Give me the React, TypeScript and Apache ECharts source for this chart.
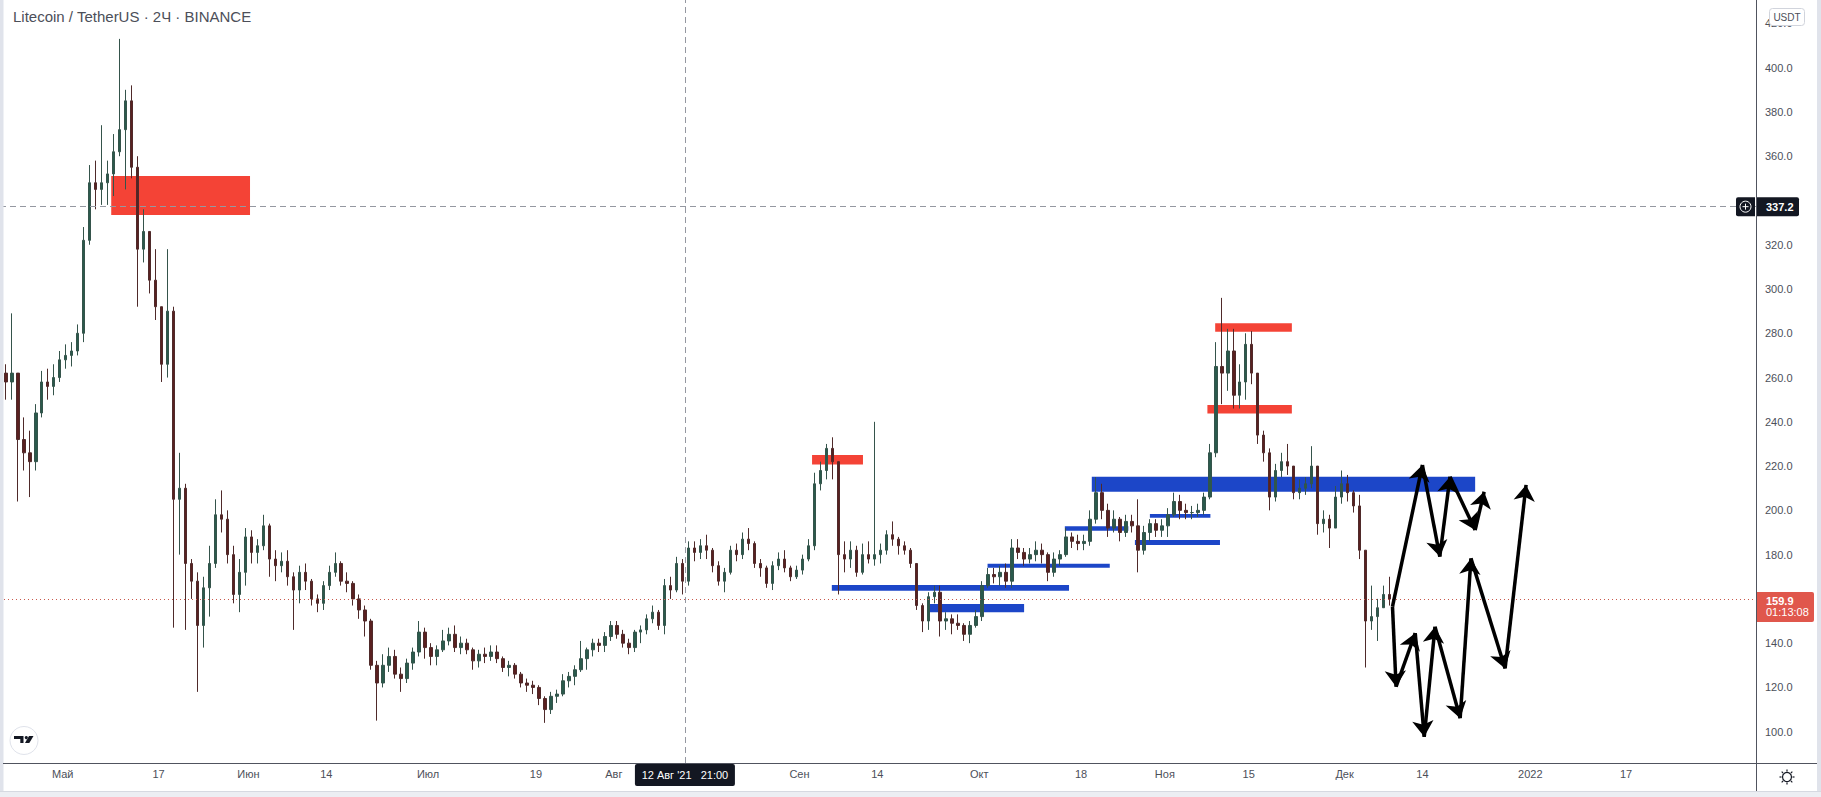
import React, { useEffect, useRef } from "react";
import * as echarts from "echarts";

// ---------- data ----------
const FIRST_DAY = "2021-04-21";
const FIRST_OPEN = 262;

// daily candles: [high, low, close]
const APR_2021 = [
  [266, 250, 258], [289, 250, 262], [262, 204, 232], [242, 218, 226], [236, 206, 222],
  [248, 218, 244], [263, 242, 258], [264, 250, 256], [266, 252, 260], [272, 258, 268],
];
const MAY_2021 = [
  [275, 264, 270], [276, 265, 272], [284, 270, 280], [328, 276, 322], [356, 320, 348],
  [358, 336, 345], [374, 338, 348], [358, 338, 352], [370, 342, 362], [413, 360, 372],
  [390, 345, 385], [392, 350, 355], [360, 292, 318], [336, 312, 326], [322, 298, 304],
  [318, 286, 292], [290, 258, 266], [318, 260, 290], [292, 147, 205], [226, 180, 210],
  [212, 146, 176], [178, 160, 168], [172, 118, 148], [170, 138, 165], [184, 152, 176],
  [205, 174, 198], [209, 190, 196], [200, 176, 180], [184, 158, 162], [178, 154, 172],
  [192, 166, 188],
];
const JUN_2021 = [
  [191, 176, 181], [187, 176, 184], [198, 182, 193], [194, 170, 178], [182, 168, 175],
  [181, 172, 177], [182, 166, 170], [172, 146, 164], [175, 158, 172], [176, 164, 168],
  [169, 157, 160], [162, 154, 158], [168, 155, 166], [175, 164, 172], [181, 170, 176],
  [177, 166, 168], [172, 163, 167], [168, 157, 160], [162, 151, 155], [157, 143, 150],
  [151, 128, 130], [132, 105, 122], [135, 120, 130], [138, 127, 134], [137, 124, 126],
  [129, 118, 124], [133, 122, 131], [138, 128, 136], [150, 134, 145], [147, 133, 138],
];
const JUL_2021 = [
  [140, 130, 134], [139, 130, 137], [146, 136, 141], [147, 139, 144], [148, 136, 138],
  [143, 135, 140], [142, 135, 137], [138, 128, 132], [137, 129, 135], [138, 131, 134],
  [139, 132, 136], [139, 131, 133], [134, 127, 129], [132, 125, 130], [131, 124, 126],
  [127, 120, 122], [124, 118, 121], [123, 117, 120], [121, 112, 115], [116, 104, 110],
  [118, 108, 116], [119, 113, 117], [126, 116, 123], [127, 120, 125], [130, 121, 128],
  [141, 127, 133], [138, 128, 137], [142, 134, 140], [142, 136, 139], [145, 136, 143],
  [150, 141, 148],
];
const AUG_2021 = [
  [150, 142, 144], [146, 138, 140], [142, 135, 138], [146, 136, 145], [148, 140, 146],
  [153, 144, 151], [157, 149, 154], [155, 146, 148], [169, 144, 166], [170, 160, 164],
  [179, 163, 176], [178, 162, 168], [186, 166, 183], [186, 177, 181], [187, 178, 184],
  [189, 178, 182], [183, 172, 175], [177, 166, 168], [174, 163, 172], [184, 171, 182],
  [185, 177, 180], [190, 178, 187], [192, 182, 185], [186, 174, 176], [178, 170, 174],
  [175, 165, 167], [177, 164, 175], [181, 173, 178], [182, 172, 174], [175, 168, 170],
  [175, 169, 173],
];
const SEP_2021 = [
  [180, 171, 178], [187, 177, 184], [217, 182, 212], [222, 209, 218], [230, 214, 228],
  [233, 214, 222], [222, 162, 180], [186, 172, 178], [186, 174, 182], [184, 170, 172],
  [185, 171, 180], [186, 176, 178], [240, 175, 180], [185, 176, 182], [191, 180, 189],
  [195, 184, 187], [188, 180, 184], [186, 180, 182], [183, 174, 176], [176, 155, 157],
  [158, 145, 150], [163, 146, 161], [166, 158, 163], [166, 143, 150], [154, 146, 151],
  [153, 144, 149], [153, 146, 148], [149, 141, 144], [150, 140, 148], [155, 147, 152],
];
const OCT_2021 = [
  [168, 150, 166], [174, 165, 171], [174, 167, 170], [175, 166, 172], [176, 165, 168],
  [187, 165, 183], [187, 178, 181], [183, 175, 178], [183, 176, 180], [186, 177, 182],
  [185, 176, 180], [181, 168, 172], [181, 170, 178], [182, 175, 180], [192, 179, 188],
  [190, 183, 186], [189, 182, 185], [189, 182, 186], [200, 184, 196], [215, 194, 208],
  [212, 196, 200], [203, 188, 192], [200, 190, 196], [197, 186, 190], [198, 188, 195],
  [198, 190, 193], [205, 172, 182], [193, 180, 190], [196, 186, 194], [196, 188, 191],
  [196, 188, 193],
];
const NOV_2021 = [
  [201, 188, 198], [208, 197, 204], [207, 196, 200], [203, 196, 199], [202, 196, 199],
  [203, 197, 200], [208, 198, 206], [230, 205, 226], [276, 224, 265], [296, 248, 262],
  [282, 254, 272], [282, 246, 252], [266, 246, 258], [280, 250, 275], [281, 257, 262],
  [262, 230, 234], [236, 222, 226], [228, 200, 206], [221, 204, 218], [226, 215, 222],
  [230, 216, 220], [220, 205, 208], [214, 205, 210], [215, 207, 212], [229, 210, 220],
  [220, 189, 194], [200, 190, 196], [198, 183, 192], [211, 192, 206], [218, 203, 212],
];
const DEC_2021 = [
  [216, 204, 208], [209, 199, 202], [207, 178, 182], [182, 129, 150], [166, 146, 152],
  [160, 141, 156], [166, 156, 162], [170, 157, 159.9],
];
const MONTHS = [APR_2021, MAY_2021, JUN_2021, JUL_2021, AUG_2021, SEP_2021, OCT_2021, NOV_2021, DEC_2021];

// time-axis labels
const TICK_DATES = [
  "2021-05-01", "2021-05-17", "2021-06-01", "2021-06-14", "2021-07-01", "2021-07-19",
  "2021-08-01", "2021-09-01", "2021-09-14", "2021-10-01", "2021-10-18", "2021-11-01",
  "2021-11-15", "2021-12-01", "2021-12-14", "2022-01-01", "2022-01-17",
];
const TICK_LABELS = [
  "Май", "17", "Июн", "14", "Июл", "19", "Авг", "Сен", "14", "Окт", "18", "Ноя",
  "15", "Дек", "14", "2022", "17",
];
// price-scale labels (340.0 sits under the crosshair price tag)
const PRICE_TICKS = [100, 120, 140, 160, 180, 200, 220, 240, 260, 280, 300, 320, 360, 380, 400, 420];

// crosshair + last price
const CROSS_TIME = "2021-08-12 21:00";
const CROSS_TIME_LABEL = "12 Авг '21   21:00";
const CROSS_PRICE = 337.2;
const LAST_PRICE = 159.9;
const COUNTDOWN = "01:13:08";

// zones: [from, to, low, high, kind]
const ZONES: [string, string, number, number, string][] = [
  ["2021-05-09 02:24", "2021-06-01 06:30", 333.4, 351.0, "red"],
  ["2021-09-03 02:24", "2021-09-11 14:24", 220.7, 225.0, "red"],
  ["2021-09-06 09:36", "2021-10-16 00:00", 163.7, 166.3, "blue"],
  ["2021-09-22 16:48", "2021-10-08 12:00", 154.0, 157.7, "blue"],
  ["2021-10-02 09:36", "2021-10-22 19:12", 174.1, 175.9, "blue"],
  ["2021-10-15 07:12", "2021-10-25 21:36", 190.8, 192.8, "blue"],
  ["2021-10-29 12:00", "2021-11-08 14:24", 196.7, 198.3, "blue"],
  ["2021-10-27 00:00", "2021-11-10 04:48", 184.4, 186.6, "blue"],
  ["2021-10-19 19:12", "2021-12-22 19:12", 208.4, 215.2, "blue"],
  ["2021-11-09 09:36", "2021-11-22 04:48", 280.7, 284.5, "red"],
  ["2021-11-08 02:24", "2021-11-22 04:48", 243.8, 247.6, "red"],
];

// projected arrow paths: [time, price]
const ARROW_UPPER: [string, number][] = [
  ["2021-12-09 00:00", 156.5], ["2021-12-14 00:00", 220.5], ["2021-12-16 21:36", 179.1],
  ["2021-12-18 14:24", 215.2], ["2021-12-22 19:12", 191.1], ["2021-12-24 07:12", 208.4],
];
const ARROW_LOWER: [string, number][] = [
  ["2021-12-09 00:00", 156.5], ["2021-12-09 14:24", 120.3], ["2021-12-12 19:12", 144.5],
  ["2021-12-14 07:12", 97.7], ["2021-12-16 02:24", 147.4], ["2021-12-20 07:12", 106.1],
  ["2021-12-22 02:24", 178.3], ["2021-12-27 19:12", 128.6], ["2021-12-31 07:12", 211.5],
];

// visible window
const VIEW_FROM = "2021-04-20 12:45";
const VIEW_TO = "2022-02-07 16:28";
const VIEW_LOW = 85.86;
const VIEW_HIGH = 430.57;

// ---------- helpers ----------
const DAY = 86400000;
const ts = (s: string) => {
  const [d, t] = s.split(" ");
  const [y, m, dd] = d.split("-").map(Number);
  const [hh, mm] = (t || "00:00").split(":").map(Number);
  return Date.UTC(y, m - 1, dd, hh, mm);
};
const FONT = '"Liberation Sans", Arial, sans-serif';
const RED = "#f44336";
const BLUE = "#1c46c8";
const TEXT = "#4c4f59";
const DARK = "#131722";

export default function App() {
  const ref = useRef<HTMLDivElement>(null);

  useEffect(() => {
    document.body.style.margin = "0";
    const chart = echarts.init(ref.current!, undefined, { renderer: "svg" });

    const candles: number[][] = [];
    let prev = FIRST_OPEN;
    let i = 0;
    const t0 = ts(FIRST_DAY);
    MONTHS.forEach((m) =>
      m.forEach(([h, l, c]) => {
        const o = prev;
        candles.push([t0 + i * DAY + DAY / 2, o, c, Math.min(l, o, c), Math.max(h, o, c)]);
        prev = c;
        i++;
      })
    );

    const tickTs = TICK_DATES.map(ts);
    const labelOf: Record<number, string> = {};
    tickTs.forEach((t, k) => (labelOf[t] = TICK_LABELS[k]));

    const segs = (pts: [string, number][]) => {
      const out: any[] = [];
      for (let k = 1; k < pts.length; k++) {
        out.push({ coords: [[ts(pts[k - 1][0]), pts[k - 1][1]], [ts(pts[k][0]), pts[k][1]]] });
      }
      return out;
    };

    const crossT = ts(CROSS_TIME);

    chart.setOption({
      animation: false,
      backgroundColor: "#ffffff",
      grid: { left: 0, right: 65, top: 0, bottom: 34 },
      xAxis: {
        type: "value",
        min: ts(VIEW_FROM),
        max: ts(VIEW_TO),
        axisLine: { show: false },
        axisTick: { show: false },
        splitLine: { show: false },
        axisLabel: {
          customValues: tickTs,
          formatter: (v: number) => labelOf[v] ?? "",
          color: TEXT,
          fontFamily: FONT,
          fontSize: 11,
          margin: 5,
        },
      },
      yAxis: {
        type: "value",
        position: "right",
        min: VIEW_LOW,
        max: VIEW_HIGH,
        axisLine: { show: false },
        axisTick: { show: false },
        splitLine: { show: false },
        axisLabel: {
          customValues: PRICE_TICKS,
          formatter: (v: number) => v.toFixed(1),
          color: TEXT,
          fontFamily: FONT,
          fontSize: 11,
          margin: 9,
        },
      },
      series: [
        {
          type: "line",
          data: [],
          z: 1,
          silent: true,
          markArea: {
            silent: true,
            data: ZONES.map(([from, to, lo, hi, kind]) => [
              { xAxis: ts(from), yAxis: hi, itemStyle: { color: kind === "red" ? RED : BLUE, opacity: 1 } },
              { xAxis: ts(to), yAxis: lo },
            ]),
          },
        },
        {
          type: "candlestick",
          z: 3,
          barWidth: 3,
          data: candles,
          itemStyle: {
            color: "#2a5a4c",
            color0: "#5a2020",
            borderColor: "#35544b",
            borderColor0: "#4f2a2a",
            borderWidth: 1,
          },
          markLine: {
            silent: true,
            symbol: ["none", "none"],
            label: { show: false },
            data: [
              { yAxis: CROSS_PRICE, lineStyle: { color: "#9598a1", type: [6, 4], width: 1 } },
              { xAxis: crossT, lineStyle: { color: "#9598a1", type: [6, 4], width: 1 } },
              { yAxis: LAST_PRICE, lineStyle: { color: "#c8584c", type: [1, 3], width: 1 } },
            ],
          },
        },
        {
          type: "lines",
          coordinateSystem: "cartesian2d",
          z: 5,
          silent: true,
          symbol: ["none", "arrow"],
          symbolSize: 16,
          lineStyle: { color: "#000000", width: 3.5, opacity: 1, curveness: 0 },
          data: [...segs(ARROW_UPPER), ...segs(ARROW_LOWER)],
        },
      ],
    });

    const [cx, cy] = chart.convertToPixel({ gridIndex: 0 } as any, [crossT, CROSS_PRICE]) as number[];
    const [, py] = chart.convertToPixel({ gridIndex: 0 } as any, [crossT, LAST_PRICE]) as number[];

    const rays: any[] = [];
    for (let k = 0; k < 8; k++) {
      const a = (k * Math.PI) / 4;
      rays.push({
        type: "line",
        shape: { x1: Math.cos(a) * 5.5, y1: Math.sin(a) * 5.5, x2: Math.cos(a) * 7.5, y2: Math.sin(a) * 7.5 },
        style: { stroke: DARK, lineWidth: 1.2 },
      });
    }

    chart.setOption({
      graphic: [
        { type: "rect", z: 100, shape: { x: 0, y: 0, width: 3.5, height: 797 }, style: { fill: "#e0e3eb" } },
        { type: "rect", z: 100, shape: { x: 1817, y: 0, width: 4, height: 797 }, style: { fill: "#e0e3eb" } },
        { type: "rect", z: 100, shape: { x: 0, y: 791, width: 1821, height: 6 }, style: { fill: "#eceef3" } },
        { type: "line", z: 100, shape: { x1: 0, y1: 791.5, x2: 1821, y2: 791.5 }, style: { stroke: "#d6d9e1", lineWidth: 1 } },
        { type: "line", z: 100, shape: { x1: 3, y1: 763.5, x2: 1817, y2: 763.5 }, style: { stroke: "#50535e", lineWidth: 1 } },
        { type: "line", z: 100, shape: { x1: 1756.5, y1: 0, x2: 1756.5, y2: 791 }, style: { stroke: "#50535e", lineWidth: 1 } },
        {
          type: "text", z: 100, x: 13, y: 16,
          style: { text: "Litecoin / TetherUS · 2Ч · BINANCE", font: `15px ${FONT}`, fill: TEXT, verticalAlign: "middle" },
        },
        {
          type: "rect", z: 101, shape: { x: 1769.5, y: 8.5, width: 35, height: 17, r: 3 },
          style: { fill: "#ffffff", stroke: "#d1d4dc", lineWidth: 1 },
        },
        {
          type: "text", z: 102, x: 1787, y: 17,
          style: { text: "USDT", font: `10px ${FONT}`, fill: TEXT, align: "center", verticalAlign: "middle" },
        },
        // crosshair price label
        { type: "rect", z: 101, shape: { x: 1736, y: cy - 9.5, width: 19, height: 19, r: [2, 0, 0, 2] }, style: { fill: DARK } },
        { type: "circle", z: 102, shape: { cx: 1745.5, cy, r: 5.5 }, style: { fill: "none", stroke: "#ffffff", lineWidth: 1 } },
        { type: "line", z: 102, shape: { x1: 1742.5, y1: cy, x2: 1748.5, y2: cy }, style: { stroke: "#ffffff", lineWidth: 1 } },
        { type: "line", z: 102, shape: { x1: 1745.5, y1: cy - 3, x2: 1745.5, y2: cy + 3 }, style: { stroke: "#ffffff", lineWidth: 1 } },
        { type: "rect", z: 101, shape: { x: 1757, y: cy - 9.5, width: 42, height: 19, r: [0, 2, 2, 0] }, style: { fill: DARK } },
        {
          type: "text", z: 102, x: 1766, y: cy,
          style: { text: CROSS_PRICE.toFixed(1), font: `bold 11px ${FONT}`, fill: "#ffffff", verticalAlign: "middle" },
        },
        // crosshair time label
        { type: "rect", z: 101, shape: { x: cx - 50, y: 764, width: 100, height: 22, r: 2 }, style: { fill: DARK } },
        {
          type: "text", z: 102, x: cx, y: 775,
          style: { text: CROSS_TIME_LABEL, font: `11px ${FONT}`, fill: "#ffffff", align: "center", verticalAlign: "middle" },
        },
        // last price label
        { type: "rect", z: 101, shape: { x: 1757, y: py - 7, width: 57, height: 30, r: [0, 2, 2, 0] }, style: { fill: "#e0574c" } },
        {
          type: "text", z: 102, x: 1766, y: py + 2,
          style: { text: LAST_PRICE.toFixed(1), font: `bold 11px ${FONT}`, fill: "#ffffff", verticalAlign: "middle" },
        },
        {
          type: "text", z: 102, x: 1766, y: py + 13,
          style: { text: COUNTDOWN, font: `11px ${FONT}`, fill: "#ffffff", verticalAlign: "middle" },
        },
        // TradingView logo
        { type: "circle", z: 100, shape: { cx: 24, cy: 740.5, r: 14 }, style: { fill: "#ffffff", stroke: "#e0e3eb", lineWidth: 1 } },
        {
          type: "polygon", z: 101,
          shape: { points: [[14, 736], [23.5, 736], [23.5, 743], [20.3, 743], [20.3, 739], [14, 739]] },
          style: { fill: DARK },
        },
        { type: "circle", z: 101, shape: { cx: 26.3, cy: 737.6, r: 1.6 }, style: { fill: DARK } },
        {
          type: "polygon", z: 101,
          shape: { points: [[29, 736], [33.5, 736], [29.3, 743], [25, 743]] },
          style: { fill: DARK },
        },
        // settings icon
        {
          type: "group", z: 100, x: 1787, y: 777,
          children: [
            { type: "circle", shape: { cx: 0, cy: 0, r: 4.5 }, style: { fill: "none", stroke: DARK, lineWidth: 1.2 } },
            ...rays,
          ],
        },
      ],
    });

    return () => chart.dispose();
  }, []);

  return <div ref={ref} style={{ width: 1821, height: 797 }} />;
}
